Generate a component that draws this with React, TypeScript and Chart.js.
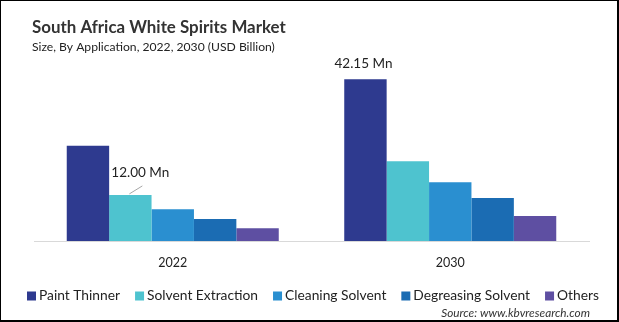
import React, { useEffect, useRef } from "react";
import { Chart, registerables } from "chart.js";

Chart.register(...registerables);

const categories = ["2022", "2030"];
const seriesNames = ["Paint Thinner", "Solvent Extraction", "Cleaning Solvent", "Degreasing Solvent", "Others"];
const paintThinner = [24.8, 42.15];
const solventExtraction = [12.0, 20.8];
const cleaningSolvent = [8.3, 15.3];
const degreasingSolvent = [5.7, 11.2];
const others = [3.3, 6.5];
const seriesColors = ["#2E3A8F", "#4EC3CF", "#2A8FD0", "#1B6CB3", "#5E4FA2"];
const titleText = "South Africa White Spirits Market";
const subtitleText = "Size, By Application, 2022, 2030 (USD Billion)";
const sourceText = "Source: www.kbvresearch.com";
const valueLabels = [
  { ds: 1, idx: 0, text: "12.00 Mn", leader: true },
  { ds: 0, idx: 1, text: "42.15 Mn", leader: false },
];

const FAMILY = "Lato, 'Open Sans', sans-serif";
const W = 616;
const H = 319;

function fitFont(ctx: CanvasRenderingContext2D, text: string, target: number, weight: string, style = "normal") {
  ctx.font = `${style} ${weight} 20px ${FAMILY}`;
  const w = ctx.measureText(text).width;
  const size = (20 * target) / w;
  return `${style} ${weight} ${size.toFixed(2)}px ${FAMILY}`;
}

const overlay = {
  id: "overlay",
  afterDraw(chart: any) {
    const ctx: CanvasRenderingContext2D = chart.ctx;
    ctx.save();
    ctx.textBaseline = "middle";
    ctx.textAlign = "left";
    // title
    ctx.fillStyle = "#333333";
    ctx.font = fitFont(ctx, titleText, 254, "bold");
    ctx.fillText(titleText, 31, 27);
    ctx.fillStyle = "#222222";
    ctx.font = fitFont(ctx, subtitleText, 243, "normal");
    ctx.fillText(subtitleText, 31, 46);

    // category labels
    const xs = chart.scales.x;
    ctx.fillStyle = "#222222";
    ctx.font = fitFont(ctx, "2022", 29, "normal");
    ctx.textAlign = "center";
    categories.forEach((c, i) => {
      ctx.fillText(c, xs.getPixelForValue(i), 262);
    });

    // value labels
    ctx.font = fitFont(ctx, "42.15 Mn", 58, "normal");
    valueLabels.forEach((l) => {
      const el = chart.getDatasetMeta(l.ds).data[l.idx];
      if (!el) return;
      if (l.leader) {
        ctx.strokeStyle = "#A6A6A6";
        ctx.lineWidth = 1;
        ctx.beginPath();
        ctx.moveTo(el.x - 1, el.y - 1);
        ctx.lineTo(el.x + 12, el.y - 9);
        ctx.stroke();
        ctx.fillStyle = "#222222";
        ctx.fillText(l.text, el.x + 10, el.y - 22);
      } else {
        ctx.fillStyle = "#222222";
        ctx.fillText(l.text, el.x - 2, el.y - 16);
      }
    });

    // legend
    const box = 9;
    const gapIn = 3;
    const gapOut = 15;
    const span = 572;
    ctx.font = `normal normal 20px ${FAMILY}`;
    const sum20 = seriesNames.reduce((a, n) => a + ctx.measureText(n).width, 0);
    const avail = span - seriesNames.length * (box + gapIn) - gapOut * (seriesNames.length - 1);
    const lsize = (20 * avail) / sum20;
    ctx.font = `normal normal ${lsize.toFixed(2)}px ${FAMILY}`;
    const widths = seriesNames.map((n) => ctx.measureText(n).width);
    let x = 26;
    const ly = 295;
    ctx.textAlign = "left";
    seriesNames.forEach((n, i) => {
      ctx.fillStyle = seriesColors[i];
      ctx.fillRect(x, ly - box / 2, box, box);
      ctx.fillStyle = "#222222";
      ctx.fillText(n, x + box + gapIn, ly);
      x += box + gapIn + widths[i] + gapOut;
    });

    // source
    ctx.font = fitFont(ctx, sourceText, 149, "normal", "italic");
    ctx.fillStyle = "#333333";
    ctx.textAlign = "right";
    ctx.fillText(sourceText, 589, 312);
    ctx.restore();
  },
};

export default function App() {
  const ref = useRef<HTMLCanvasElement>(null);
  useEffect(() => {
    document.body.style.margin = "0";
    const canvas = ref.current!;
    const data = [paintThinner, solventExtraction, cleaningSolvent, degreasingSolvent, others];
    const chart = new Chart(canvas, {
      type: "bar",
      data: {
        labels: categories,
        datasets: seriesNames.map((n, i) => ({
          label: n,
          data: data[i],
          backgroundColor: seriesColors[i],
          borderWidth: 0,
          categoryPercentage: 0.764,
          barPercentage: 1,
        })),
      },
      options: {
        responsive: false,
        animation: false,
        devicePixelRatio: 1,
        layout: { padding: { left: 33, right: 28, top: 48, bottom: 79 } },
        plugins: {
          legend: { display: false },
          title: { display: false },
          tooltip: { enabled: false },
        },
        scales: {
          x: {
            grid: { display: false, drawTicks: false },
            border: { display: true, color: "#D9D9D9", width: 1 },
            ticks: { display: false },
          },
          y: {
            display: false,
            min: 0,
            max: 50,
          },
        },
      },
      plugins: [overlay],
    });
    return () => chart.destroy();
  }, []);
  return (
    <div
      style={{
        width: 619,
        height: 322,
        boxSizing: "border-box",
        borderLeft: "1px solid #000",
        borderTop: "1px solid #000",
        borderRight: "2px solid #000",
        borderBottom: "2px solid #000",
        background: "#fff",
        overflow: "hidden",
      }}
    >
      <canvas ref={ref} width={W} height={H} style={{ display: "block", width: W, height: H }} />
    </div>
  );
}
